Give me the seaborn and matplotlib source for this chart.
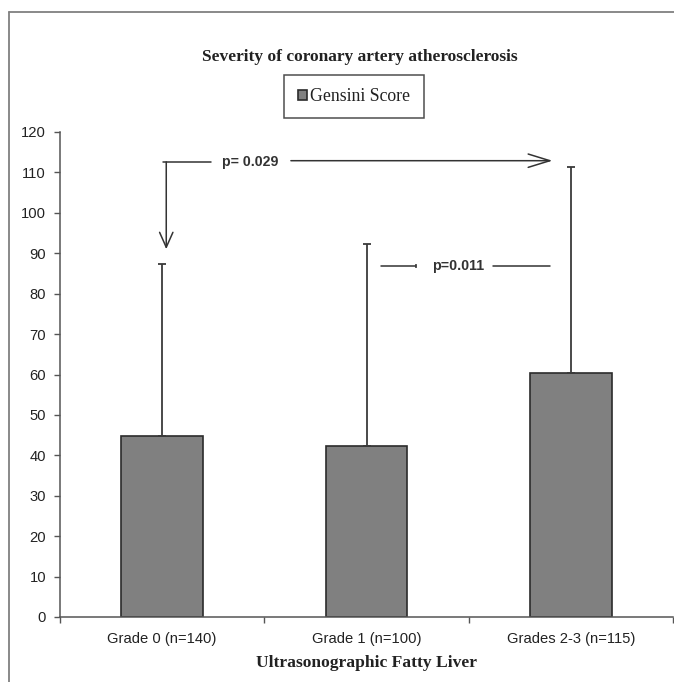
import numpy as np
import pandas as pd
import matplotlib
matplotlib.use('Agg')
import matplotlib.pyplot as plt
from matplotlib.lines import Line2D
import seaborn as sns

groups = ['Grade 0 (n=140)', 'Grade 1 (n=100)', 'Grades 2-3 (n=115)']
gensini_mean = [44.8, 42.3, 60.4]
gensini_sd = [42.6, 50.0, 51.0]
yticks = list(range(0, 130, 10))

df = pd.DataFrame({'group': groups, 'gensini': gensini_mean})

sns.set_theme(style='white')
plt.rcParams['font.family'] = ['Liberation Sans', 'DejaVu Sans']

fig = plt.figure(figsize=(6.74, 6.82), dpi=100)
ax = fig.add_axes([60 / 674, 1 - 617 / 682, (673 - 60) / 674, (617 - 132) / 682])

sns.barplot(data=df, x='group', y='gensini', color='#808080', saturation=1,
            width=0.4, edgecolor='#2b2b2b', linewidth=1.2, errorbar=None,
            label='Gensini Score', ax=ax)
handles, labels = ax.get_legend_handles_labels()
if ax.get_legend() is not None:
    ax.get_legend().remove()

# only upper error bars, like the original Excel chart
x = np.arange(len(groups))
ax.errorbar(x, gensini_mean, yerr=[np.zeros(len(groups)), gensini_sd],
            fmt='none', ecolor='#3a3a3a', elinewidth=1.3, capsize=3, capthick=1.3)

ax.set_xlim(-0.5, 2.5)
ax.set_ylim(0, 120)
ax.set_yticks(yticks)
ax.set_xticks(x)
ax.set_xticks([-0.5, 0.5, 1.5, 2.5], minor=True)
ax.tick_params(axis='x', which='major', length=0, pad=11, labelsize=10.6, labelcolor='#222222')
ax.tick_params(axis='x', which='minor', length=4, width=1, color='#555555', direction='out', bottom=True)
ax.tick_params(axis='y', length=4, width=1, color='#555555', direction='out', left=True,
               pad=6, labelsize=10.6, labelcolor='#222222')

for side in ['top', 'right']:
    ax.spines[side].set_visible(False)
for side in ['left', 'bottom']:
    ax.spines[side].set_color('#555555')
    ax.spines[side].set_linewidth(1.1)

ax.set_ylabel('')
ax.set_xlabel('Ultrasonographic Fatty Liver', family='Liberation Serif',
              fontweight='bold', fontsize=12.6, color='#222222', labelpad=6)

# p-value annotations
lc = '#333333'
ax.plot([0.005, 0.24], [112.6, 112.6], color=lc, lw=1.1)
ax.annotate('', xy=(0.02, 91.0), xytext=(0.02, 112.6),
            arrowprops=dict(arrowstyle='->,head_length=0.9,head_width=0.4', color=lc, lw=1.1,
                            shrinkA=0, shrinkB=0))
ax.text(0.43, 112.6, 'p= 0.029', ha='center', va='center', fontsize=10.2,
        fontweight='bold', color='#333333')
ax.annotate('', xy=(1.91, 112.9), xytext=(0.63, 112.9),
            arrowprops=dict(arrowstyle='->,head_length=1.3,head_width=0.4', color=lc, lw=1.1,
                            shrinkA=0, shrinkB=0))

ax.plot([1.07, 1.24], [86.9, 86.9], color=lc, lw=1.1)
ax.plot([1.24], [86.9], marker='|', ms=3, color=lc, mew=1.1)
ax.text(1.45, 86.9, 'p=0.011', ha='center', va='center', fontsize=10.3,
        fontweight='bold', color='#333333')
ax.plot([1.62, 1.90], [86.9, 86.9], color=lc, lw=1.1)

fig.text(360 / 674, 1 - 57 / 682, 'Severity of coronary artery atherosclerosis',
         ha='center', va='center', family='Liberation Serif', fontweight='bold',
         fontsize=12.5, color='#222222')

leg = fig.legend(handles, labels, loc='center', bbox_to_anchor=(354 / 674, 1 - 96.5 / 682),
                 prop={'family': 'Liberation Serif', 'size': 12.8}, frameon=True,
                 fancybox=False, edgecolor='#222222', borderpad=0.75,
                 handlelength=0.5, handleheight=0.5, handletextpad=0.2)
leg.get_frame().set_linewidth(1.1)
for t in leg.get_texts():
    t.set_color('#222222')

# outer frame of the picture (only left and top edges visible)
frame_c = '#808080'
fig.add_artist(Line2D([8.5 / 674, 8.5 / 674], [1 - 12 / 682, 0], transform=fig.transFigure,
                      color=frame_c, lw=1.3))
fig.add_artist(Line2D([8.5 / 674, 1], [1 - 12 / 682, 1 - 12 / 682], transform=fig.transFigure,
                      color=frame_c, lw=1.3))

fig.savefig('out.png', dpi=100)
